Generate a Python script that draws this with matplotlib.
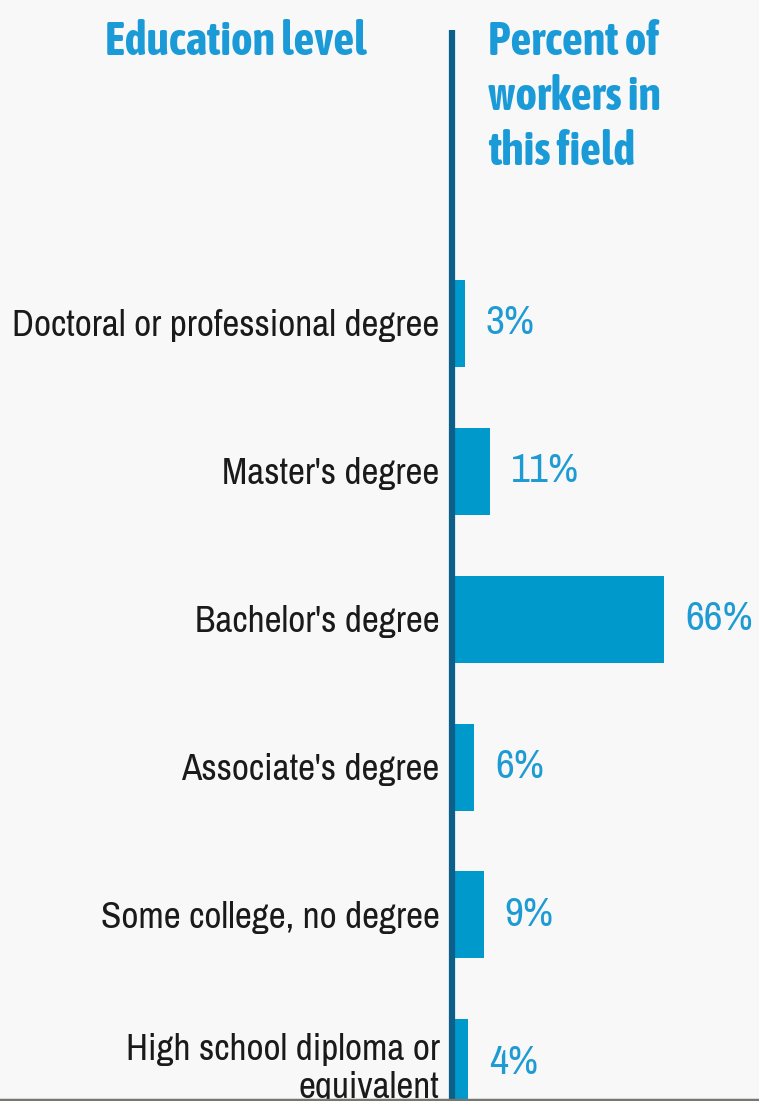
import matplotlib
matplotlib.use("Agg")
import matplotlib.pyplot as plt
from matplotlib import font_manager
from matplotlib.lines import Line2D

levels = ["Doctoral or professional degree", "Master's degree", "Bachelor's degree",
          "Associate's degree", "Some college, no degree", "High school diploma or\nequivalent"]
percents = [3, 11, 66, 6, 9, 4]
value_labels = ["3%", "11%", "66%", "6%", "9%", "4%"]

# pick a narrow face if one is installed, preferring one with a bold cut
fonts = font_manager.fontManager.ttflist
narrow_names = sorted({f.name for f in fonts if "Narrow" in f.name or "Condensed" in f.name})
bold_narrow = sorted({f.name for f in fonts
                      if f.name in narrow_names and isinstance(f.weight, int) and f.weight >= 600})
family = narrow_names[0] if narrow_names else "DejaVu Sans"
head_family = bold_narrow[0] if bold_narrow else family
stretch = "normal" if narrow_names else "condensed"

W, H = 759, 1101
fig = plt.figure(figsize=(W / 100, H / 100), dpi=100)
fig.patch.set_facecolor("#f8f8f9")
renderer = fig.canvas.get_renderer()


def fit(t, width_px):
    # scale a text so it spans about width_px
    w = t.get_window_extent(renderer).width
    t.set_fontsize(t.get_fontsize() * width_px / w)


ax = fig.add_axes([455 / W, 0, 1 - 455 / W, 1])
ax.set_facecolor("none")
px_per_pct = 209 / 66
step = 148.0
top_center = 323.0
ax.set_xlim(0, (W - 455) / px_per_pct)
ax.set_ylim((H - top_center) / step, -top_center / step)

ypos = list(range(len(levels)))
ax.barh(ypos, percents, height=87 / step, color="#0099cc")

vals = []
for y, p, lab in zip(ypos, percents, value_labels):
    t = ax.text(p + 21 / px_per_pct, y, lab, va="center", ha="left",
                fontsize=22, color="#1f9bd4", family=family, fontstretch=stretch,
                fontweight="bold")
    vals.append(t)
fit(vals[2], 68)
for t in vals:
    t.set_fontsize(vals[2].get_fontsize())

ax.set_yticks(ypos)
ax.set_yticklabels(levels, fontsize=22, family=family, fontstretch=stretch,
                   color="#1a1a1a")
ax.tick_params(axis="y", length=0, pad=11)
ax.set_xticks([])
for s in ax.spines.values():
    s.set_visible(False)
ticklabs = ax.get_yticklabels()
fit(ticklabs[0], 428)
for t in ticklabs:
    t.set_fontsize(ticklabs[0].get_fontsize())

xline = -3 / px_per_pct
ax.vlines(xline, H / step, (30 - top_center) / step, color="#0b5f88",
          linewidth=4.5, clip_on=False)

h1 = fig.text(236 / W, 1 - 19 / H, "Education level", ha="center", va="top",
              fontsize=23, fontweight="bold", color="#1a9ad6", family=head_family,
              fontstretch=stretch)
fit(h1, 262)
h2 = fig.text(488 / W, 1 - 19 / H, "Percent of\nworkers in\nthis field", ha="left",
              va="top", fontsize=h1.get_fontsize(), fontweight="bold", color="#1a9ad6",
              family=head_family, fontstretch=stretch, linespacing=1.25)

fig.add_artist(Line2D([0, 1], [1.5 / H, 1.5 / H], color="#777770", linewidth=2.5,
                      transform=fig.transFigure))

fig.savefig("out.png", dpi=100, facecolor=fig.get_facecolor())
